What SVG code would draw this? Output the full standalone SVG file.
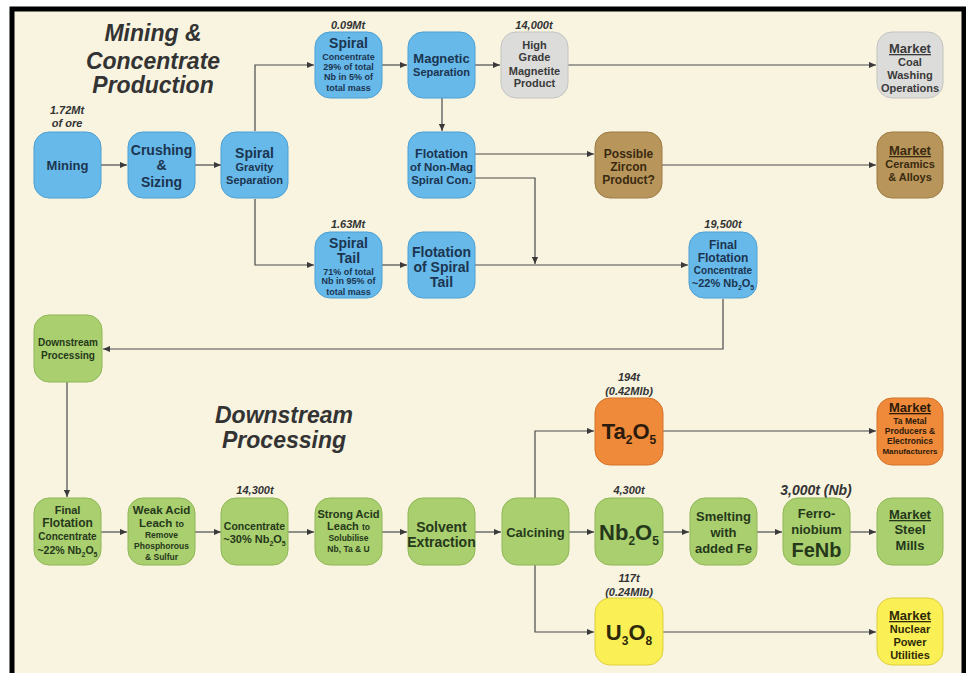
<svg xmlns="http://www.w3.org/2000/svg" width="966" height="673" viewBox="0 0 966 673">
<defs>
<marker id="ah" viewBox="0 0 8 8" refX="8" refY="4" markerWidth="7" markerHeight="7" markerUnits="userSpaceOnUse" orient="auto">
<path d="M0,0.5 L8,4 L0,7.5 Z" fill="#3a3a3a"/>
</marker>
</defs>
<style>
text{font-family:"Liberation Sans",Arial,sans-serif;font-weight:bold;text-anchor:middle}
.title{font-size:23px;font-style:italic;fill:#333}
.qty{font-size:11px;font-style:italic;fill:#333}
.blue rect{fill:#67b9ea;stroke:#4d9fd2;stroke-width:1}
.blue text{fill:#1b3550}
.green rect{fill:#a9cf6f;stroke:#8fb656;stroke-width:1}
.green text{fill:#26381a}
.gray rect{fill:#dcdcdb;stroke:#c4c4c2;stroke-width:1}
.gray text{fill:#3a3a3a}
.brown rect{fill:#b8955a;stroke:#9c7b44;stroke-width:1}
.brown text{fill:#3a2a10}
.orange rect{fill:#ef8a3b;stroke:#d47228;stroke-width:1}
.orange text{fill:#2c1a0a}
.yellow rect{fill:#fbef56;stroke:#dccf3c;stroke-width:1}
.yellow text{fill:#2e2a08}
.u{text-decoration:underline}
#connectors path{fill:none;stroke:#4a4a4a;stroke-width:1.2}
</style>
<rect x="0" y="0" width="966" height="673" fill="#ffffff"/>
<rect x="12" y="9" width="952" height="666" fill="#f8f4e0"/>
<path d="M12,675 L12,9 L964,9 L964,675" fill="none" stroke="#000" stroke-width="5"/>

<text class="title" x="153" y="41">Mining &amp;</text>
<text class="title" x="153" y="69">Concentrate</text>
<text class="title" x="153" y="93">Production</text>
<text class="title" x="284" y="423">Downstream</text>
<text class="title" x="284" y="448">Processing</text>

<g class="qtys">
<text class="qty" x="67" y="114">1.72Mt</text>
<text class="qty" x="67" y="127">of ore</text>
<text class="qty" x="348" y="29">0.09Mt</text>
<text class="qty" x="534" y="29">14,000t</text>
<text class="qty" x="348" y="228">1.63Mt</text>
<text class="qty" x="723" y="228">19,500t</text>
<text class="qty" x="255" y="494">14,300t</text>
<text class="qty" x="629" y="381">194t</text>
<text class="qty" x="629" y="395">(0.42Mlb)</text>
<text class="qty" x="629" y="494">4,300t</text>
<text class="qty" x="816" y="495" style="font-size:14px">3,000t (Nb)</text>
<text class="qty" x="629" y="582">117t</text>
<text class="qty" x="629" y="596">(0.24Mlb)</text>
</g>

<g id="connectors">
<path d="M101,165 H127" marker-end="url(#ah)"/>
<path d="M194,165 H221" marker-end="url(#ah)"/>
<path d="M255,131 V65 H314" marker-end="url(#ah)"/>
<path d="M255,199 V265 H314" marker-end="url(#ah)"/>
<path d="M382,65 H407" marker-end="url(#ah)"/>
<path d="M475,65 H500" marker-end="url(#ah)"/>
<path d="M568,65 H876" marker-end="url(#ah)"/>
<path d="M442,98 V131" marker-end="url(#ah)"/>
<path d="M475,154 H594" marker-end="url(#ah)"/>
<path d="M475,178 H535 V264" marker-end="url(#ah)"/>
<path d="M662,165 H876" marker-end="url(#ah)"/>
<path d="M382,265 H407" marker-end="url(#ah)"/>
<path d="M475,265 H688" marker-end="url(#ah)"/>
<path d="M723,299 V349 H103" marker-end="url(#ah)"/>
<path d="M67,382 V497" marker-end="url(#ah)"/>
<path d="M101,532 H127" marker-end="url(#ah)"/>
<path d="M195,532 H221" marker-end="url(#ah)"/>
<path d="M288,532 H314" marker-end="url(#ah)"/>
<path d="M382,532 H407" marker-end="url(#ah)"/>
<path d="M475,532 H501" marker-end="url(#ah)"/>
<path d="M568,532 H594" marker-end="url(#ah)"/>
<path d="M663,532 H689" marker-end="url(#ah)"/>
<path d="M757,532 H782" marker-end="url(#ah)"/>
<path d="M850,532 H876" marker-end="url(#ah)"/>
<path d="M535,498 V431 H594" marker-end="url(#ah)"/>
<path d="M535,565 V632 H594" marker-end="url(#ah)"/>
<path d="M663,431 H876" marker-end="url(#ah)"/>
<path d="M663,632 H876" marker-end="url(#ah)"/>
</g>

<!-- Row 1 -->
<g id="mining" class="blue"><rect x="34" y="132" width="67" height="66" rx="15"/>
<text x="67.5" y="170" font-size="13">Mining</text></g>
<g id="crushing" class="blue"><rect x="128" y="132" width="67" height="66" rx="15"/>
<text x="161.5" y="155" font-size="14">Crushing</text><text x="161.5" y="170" font-size="14">&amp;</text><text x="161.5" y="187" font-size="14">Sizing</text></g>
<g id="spiral-gravity" class="blue"><rect x="221" y="132" width="67" height="66" rx="15"/>
<text x="254.5" y="158" font-size="14">Spiral</text><text x="254.5" y="171" font-size="11">Gravity</text><text x="254.5" y="184" font-size="11">Separation</text></g>
<g id="spiral-conc" class="blue"><rect x="315" y="32" width="67" height="66" rx="15"/>
<text x="348.5" y="48" font-size="14">Spiral</text><text x="348.5" y="60" font-size="9">Concentrate</text><text x="348.5" y="70" font-size="9">29% of total</text><text x="348.5" y="80" font-size="9">Nb in 5% of</text><text x="348.5" y="91" font-size="9">total mass</text></g>
<g id="magnetic" class="blue"><rect x="408" y="32" width="67" height="66" rx="15"/>
<text x="441.5" y="63" font-size="13">Magnetic</text><text x="441.5" y="76" font-size="11">Separation</text></g>
<g id="magnetite" class="gray"><rect x="501" y="32" width="67" height="66" rx="15"/>
<text x="534.5" y="49" font-size="11">High</text><text x="534.5" y="61" font-size="11">Grade</text><text x="534.5" y="75" font-size="11">Magnetite</text><text x="534.5" y="87" font-size="11">Product</text></g>
<g id="market-coal" class="gray"><rect x="877" y="32" width="66" height="66" rx="15"/>
<text x="910" y="53" font-size="13" class="u">Market</text><text x="910" y="66" font-size="11">Coal</text><text x="910" y="79" font-size="11">Washing</text><text x="910" y="92" font-size="11">Operations</text></g>
<g id="flotation-nonmag" class="blue"><rect x="408" y="132" width="67" height="66" rx="15"/>
<text x="441.5" y="158" font-size="12.5">Flotation</text><text x="441.5" y="171" font-size="11.5">of Non-Mag</text><text x="441.5" y="184" font-size="11.5">Spiral Con.</text></g>
<g id="zircon" class="brown"><rect x="595" y="132" width="67" height="66" rx="15"/>
<text x="628.5" y="158" font-size="12">Possible</text><text x="628.5" y="171" font-size="12">Zircon</text><text x="628.5" y="184" font-size="12">Product?</text></g>
<g id="market-ceramics" class="brown"><rect x="877" y="132" width="66" height="66" rx="15"/>
<text x="910" y="155" font-size="13" class="u">Market</text><text x="910" y="168" font-size="11">Ceramics</text><text x="910" y="181" font-size="11">&amp; Alloys</text></g>
<g id="spiral-tail" class="blue"><rect x="315" y="232" width="67" height="66" rx="15"/>
<text x="348.5" y="248" font-size="14">Spiral</text><text x="348.5" y="263" font-size="14">Tail</text><text x="348.5" y="275" font-size="9">71% of total</text><text x="348.5" y="284" font-size="9">Nb in 95% of</text><text x="348.5" y="295" font-size="9">total mass</text></g>
<g id="flotation-tail" class="blue"><rect x="408" y="232" width="67" height="66" rx="15"/>
<text x="441.5" y="257" font-size="14">Flotation</text><text x="441.5" y="272" font-size="14">of Spiral</text><text x="441.5" y="287" font-size="14">Tail</text></g>
<g id="final-flotation-1" class="blue"><rect x="689" y="232" width="68" height="66" rx="15"/>
<text x="723" y="249" font-size="12">Final</text><text x="723" y="262" font-size="12">Flotation</text><text x="723" y="274" font-size="10">Concentrate</text><text x="723" y="287" font-size="11">~22% Nb<tspan font-size="7" dy="3">2</tspan><tspan dy="-3">O</tspan><tspan font-size="7" dy="3">5</tspan></text></g>
<g id="downstream" class="green"><rect x="34" y="315" width="68" height="67" rx="15"/>
<text x="68" y="346" font-size="10">Downstream</text><text x="68" y="359" font-size="10">Processing</text></g>

<!-- Row 3 -->
<g id="final-flotation-2" class="green"><rect x="34" y="498" width="67" height="67" rx="15"/>
<text x="67.5" y="514" font-size="11">Final</text><text x="67.5" y="527" font-size="12">Flotation</text><text x="67.5" y="540" font-size="10">Concentrate</text><text x="67.5" y="554" font-size="10.5">~22% Nb<tspan font-size="7" dy="3">2</tspan><tspan dy="-3">O</tspan><tspan font-size="7" dy="3">5</tspan></text></g>
<g id="weak-acid" class="green"><rect x="128" y="498" width="67" height="67" rx="15"/>
<text x="161.5" y="514" font-size="11.5">Weak Acid</text><text x="161.5" y="527" font-size="11.5">Leach <tspan font-size="9">to</tspan></text><text x="161.5" y="538" font-size="8.5">Remove</text><text x="161.5" y="549" font-size="8.5">Phosphorous</text><text x="161.5" y="560" font-size="8.5">&amp; Sulfur</text></g>
<g id="concentrate-30" class="green"><rect x="221" y="498" width="67" height="67" rx="15"/>
<text x="254.5" y="530" font-size="10.5">Concentrate</text><text x="254.5" y="543" font-size="11">~30% Nb<tspan font-size="7" dy="3">2</tspan><tspan dy="-3">O</tspan><tspan font-size="7" dy="3">5</tspan></text></g>
<g id="strong-acid" class="green"><rect x="315" y="498" width="67" height="67" rx="15"/>
<text x="348.5" y="518" font-size="11">Strong Acid</text><text x="348.5" y="530" font-size="11">Leach <tspan font-size="8.5">to</tspan></text><text x="348.5" y="541" font-size="8.5">Solubilise</text><text x="348.5" y="552" font-size="8.5">Nb, Ta &amp; U</text></g>
<g id="solvent" class="green"><rect x="408" y="498" width="67" height="67" rx="15"/>
<text x="441.5" y="532" font-size="14">Solvent</text><text x="441.5" y="547" font-size="14">Extraction</text></g>
<g id="calcining" class="green"><rect x="502" y="498" width="67" height="67" rx="15"/>
<text x="535.5" y="537" font-size="13">Calcining</text></g>
<g id="ta2o5" class="orange"><rect x="595" y="398" width="68" height="67" rx="15"/>
<text x="629" y="439" font-size="22">Ta<tspan font-size="12" dy="5">2</tspan><tspan dy="-5">O</tspan><tspan font-size="12" dy="5">5</tspan></text></g>
<g id="nb2o5" class="green"><rect x="595" y="498" width="68" height="67" rx="15"/>
<text x="629" y="540" font-size="22">Nb<tspan font-size="12" dy="5">2</tspan><tspan dy="-5">O</tspan><tspan font-size="12" dy="5">5</tspan></text></g>
<g id="u3o8" class="yellow"><rect x="595" y="598" width="68" height="67" rx="15"/>
<text x="629" y="640" font-size="22">U<tspan font-size="12" dy="5">3</tspan><tspan dy="-5">O</tspan><tspan font-size="12" dy="5">8</tspan></text></g>
<g id="smelting" class="green"><rect x="690" y="498" width="67" height="67" rx="15"/>
<text x="723.5" y="521" font-size="13">Smelting</text><text x="723.5" y="537" font-size="13">with</text><text x="723.5" y="553" font-size="13">added Fe</text></g>
<g id="fenb" class="green"><rect x="783" y="498" width="67" height="67" rx="15"/>
<text x="816.5" y="518" font-size="13">Ferro-</text><text x="816.5" y="534" font-size="13">niobium</text><text x="816.5" y="557" font-size="20">FeNb</text></g>
<g id="market-steel" class="green"><rect x="877" y="498" width="66" height="67" rx="15"/>
<text x="910" y="519" font-size="13" class="u">Market</text><text x="910" y="534" font-size="13">Steel</text><text x="910" y="550" font-size="13">Mills</text></g>
<g id="market-ta" class="orange"><rect x="877" y="398" width="66" height="67" rx="15"/>
<text x="910" y="412" font-size="13" class="u">Market</text><text x="910" y="424" font-size="8.5">Ta Metal</text><text x="910" y="434" font-size="8.5">Producers &amp;</text><text x="910" y="444" font-size="8.5">Electronics</text><text x="910" y="454" font-size="8">Manufacturers</text></g>
<g id="market-nuclear" class="yellow"><rect x="877" y="598" width="66" height="67" rx="15"/>
<text x="910" y="620" font-size="13" class="u">Market</text><text x="910" y="633" font-size="11">Nuclear</text><text x="910" y="646" font-size="11">Power</text><text x="910" y="659" font-size="11">Utilities</text></g>
</svg>
